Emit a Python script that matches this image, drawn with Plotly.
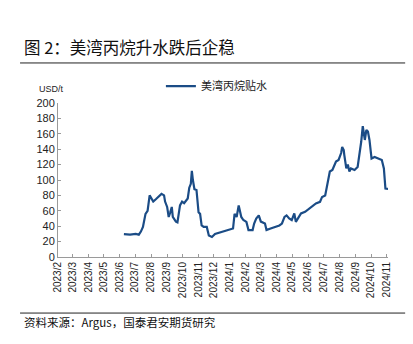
import plotly.graph_objects as go

dates = [
    "2023-06-09", "2023-06-21", "2023-07-02", "2023-07-08", "2023-07-12", "2023-07-16",
    "2023-07-21", "2023-07-25", "2023-07-29", "2023-08-01", "2023-08-05", "2023-08-10",
    "2023-08-15", "2023-08-21", "2023-08-26", "2023-08-28", "2023-09-01", "2023-09-04",
    "2023-09-07", "2023-09-10", "2023-09-12", "2023-09-18", "2023-09-21", "2023-09-26",
    "2023-09-30", "2023-10-04", "2023-10-11", "2023-10-14", "2023-10-17", "2023-10-19",
    "2023-10-21", "2023-10-24", "2023-10-28", "2023-11-01", "2023-11-04", "2023-11-07",
    "2023-11-11", "2023-11-17", "2023-11-21", "2023-11-27", "2023-12-03", "2023-12-17",
    "2023-12-29", "2024-01-07", "2024-01-10", "2024-01-14", "2024-01-18", "2024-01-23",
    "2024-01-27", "2024-02-02", "2024-02-06", "2024-02-14", "2024-02-17", "2024-02-21",
    "2024-02-26", "2024-03-01", "2024-03-09", "2024-03-12", "2024-03-20", "2024-03-30",
    "2024-04-06", "2024-04-11", "2024-04-16", "2024-04-20", "2024-04-25", "2024-04-30",
    "2024-05-05", "2024-05-08", "2024-05-13", "2024-05-18", "2024-05-26", "2024-06-03",
    "2024-06-10", "2024-06-16", "2024-06-24", "2024-06-28", "2024-07-04", "2024-07-08",
    "2024-07-13", "2024-07-18", "2024-07-25", "2024-07-30", "2024-08-04", "2024-08-06",
    "2024-08-09", "2024-08-10", "2024-08-14", "2024-08-17", "2024-08-20", "2024-08-23",
    "2024-08-30", "2024-09-05", "2024-09-09", "2024-09-12", "2024-09-15", "2024-09-19",
    "2024-09-22", "2024-09-25", "2024-09-28", "2024-10-02", "2024-10-08", "2024-10-14",
    "2024-10-22", "2024-10-26", "2024-10-29", "2024-11-07",
]
premium = [
    29.6, 29, 30, 29, 33, 39,
    56, 60, 80, 76, 72, 75,
    78, 82, 80, 72, 65, 52,
    58, 65, 52, 46, 45, 67,
    72, 70, 76, 90, 95, 112,
    100, 88, 87, 58, 56, 41,
    39, 39, 28, 26, 30, 32.6,
    34.8, 37, 56, 52, 67, 52,
    48, 45.6, 35, 35, 43.5, 50,
    54, 46, 43.5, 35, 37, 39,
    41, 43.5, 52, 54, 50, 48,
    56.5, 45.6, 52, 56.5, 58.7, 63,
    67, 69.6, 71.7, 78, 80, 93,
    111, 113, 124, 126, 135, 143,
    139, 133, 115, 120, 111, 115,
    113, 117, 133, 150, 170, 152,
    165, 163, 152, 128, 130, 128,
    126, 115, 89, 88,
]

tick_dates = [f"{y}-{m:02d}-01" for y, m in
              [(2023, m) for m in range(2, 13)] + [(2024, m) for m in range(1, 12)]]
tick_labels = [f"{d[:4]}/{int(d[5:7])}" for d in tick_dates]
y_ticks = list(range(0, 201, 20))

series_name = "美湾丙烷贴水"
title_text = "图 2：美湾丙烷升水跌后企稳"
source_text = "资料来源：Argus，国泰君安期货研究"
unit_text = "USD/t"

CJK = "Noto Sans CJK SC"
LAT = "Liberation Sans, Arial"

fig = go.Figure()
fig.add_trace(go.Scatter(
    x=dates, y=premium, mode="lines", name=series_name,
    line=dict(color="#1b4c86", width=2.2),
))

fig.update_layout(
    width=413, height=344,
    margin=dict(l=58, r=25, t=103, b=87),
    paper_bgcolor="white", plot_bgcolor="white",
    showlegend=True,
    legend=dict(orientation="h", x=0.48, xanchor="center", y=1.11, yanchor="middle",
                font=dict(family=CJK, size=11, color="#222"),
                bgcolor="rgba(0,0,0,0)", itemwidth=30),
    xaxis=dict(
        type="date", range=["2023-02-01", "2024-11-03"],
        tickvals=tick_dates, ticktext=tick_labels, tickangle=-90,
        showgrid=False, zeroline=False,
        showline=True, linecolor="#9a9a9a", linewidth=1,
        ticks="inside", ticklen=3, tickcolor="#9a9a9a",
        tickfont=dict(family=LAT, size=10, color="#222"),
    ),
    yaxis=dict(
        range=[0, 200], tickvals=y_ticks,
        showgrid=False, zeroline=False,
        showline=True, linecolor="#9a9a9a", linewidth=1,
        ticks="inside", ticklen=3, tickcolor="#9a9a9a",
        tickfont=dict(family=LAT, size=11, color="#222"),
    ),
    shapes=[
        dict(type="line", xref="paper", yref="paper", x0=-0.115, x1=1.052, y0=1.26, y1=1.26,
             line=dict(color="#222", width=1)),
        dict(type="line", xref="paper", yref="paper", x0=-0.115, x1=1.052, y0=-0.364, y1=-0.364,
             line=dict(color="#222", width=1)),
    ],
    annotations=[
        dict(text=title_text, xref="paper", yref="paper", x=-0.109, y=1.364,
             xanchor="left", yanchor="middle", showarrow=False,
             font=dict(family=CJK, size=16.5, color="#111")),
        dict(text=source_text, xref="paper", yref="paper", x=-0.109, y=-0.42,
             xanchor="left", yanchor="middle", showarrow=False,
             font=dict(family=CJK, size=11.5, color="#111")),
        dict(text=unit_text, xref="paper", yref="paper", x=-0.065, y=1.09,
             xanchor="left", yanchor="middle", showarrow=False,
             font=dict(family=LAT, size=9, color="#222")),
    ],
)

fig.write_html("out.html")
